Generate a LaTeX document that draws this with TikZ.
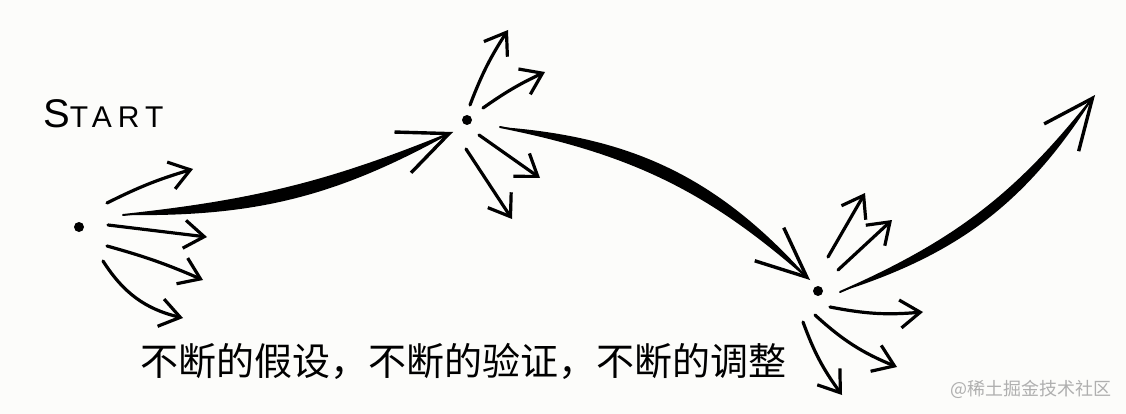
\documentclass[tikz,border=0pt]{standalone}
\usepackage{fontspec}
\setsansfont{Liberation Sans}
\newfontfamily\cjk{Noto Sans CJK SC}
\usetikzlibrary{arrows.meta}
\definecolor{paper}{HTML}{FCFCFA}
\definecolor{mark}{HTML}{AFAFAF}
\tikzset{
  dot/.style={fill=black,circle,minimum size=10pt,inner sep=0pt},
  probe/.style={line width=3.2pt,line cap=round,-{Straight Barb[length=20pt,width=28pt]}},
  leap/.style={line width=2pt,line cap=round,-{Straight Barb[length=50pt,width=44pt,line width=3.4pt]}}
}
\begin{document}
\begin{tikzpicture}[x=1pt,y=-1pt]
  \useasboundingbox[fill=paper] (0,0) rectangle (1126,414);
  % \draw[help lines,step=50] (0,0) grid (1126,414);
  \node[dot] (s) at (79,227) {};
  \node[dot] (a) at (467,120) {};
  \node[dot] (b) at (818,291) {};
  \coordinate (goal) at (1095,95);
  \node[font=\sffamily\addfontfeature{LetterSpace=20}\fontsize{30}{30}\selectfont,anchor=base west,inner sep=0pt]
    (start) at (43,128) {{\fontsize{40}{40}\selectfont S}TART};
  % the small tries around each dot
  \foreach \ax/\ay/\bx/\by/\bend in {28/-24/114/-58/5, 29/-2/128/10/0, 28/19/124/53/4, 24/34/104/91/-22}
    \draw[probe] ([shift={(\ax,\ay)}]s.center) to[bend left=\bend] ([shift={(\bx,\by)}]s.center);
  \foreach \ax/\ay/\bx/\by/\bend in {3/-15/41/-90/6, 16/-12/78/-48/5, 12/15/73/58/0, -1/29/45/99/0}
    \draw[probe] ([shift={(\ax,\ay)}]a.center) to[bend left=\bend] ([shift={(\bx,\by)}]a.center);
  \foreach \ax/\ay/\bx/\by/\bend in {10/-34/47/-98/0, 20/-21/74/-71/0, 12/16/105/21/-8, -3/24/79/76/-10, -15/31/24/104/-8}
    \draw[probe] ([shift={(\ax,\ay)}]b.center) to[bend left=\bend] ([shift={(\bx,\by)}]b.center);
  % the big steps
  \foreach \src/\px/\py/\dst/\qx/\qy/\bend/\bulge in {s/44/-12/a/-14/12/-8/-15, a/33/7/b/-8/-11/15/22, b/22/1/goal/0/0/-14/-20} {
    \fill ([shift={(\px,\py)}]\src.center) to[bend left=\bend] ([shift={(\qx,\qy)}]\dst.center)
      to[bend right=\bulge] ([shift={(\px,\py)}]\src.center);
    \draw[leap] ([shift={(\px,\py)}]\src.center) to[bend left=\bend] ([shift={(\qx,\qy)}]\dst.center);
  }
  \node[font=\cjk\fontsize{38}{38}\selectfont] (motto) at (463,361) {不断的假设，不断的验证，不断的调整};
  \node[font=\cjk\fontsize{18}{18}\selectfont,text=mark] (credit) at (1031,389) {@稀土掘金技术社区};
\end{tikzpicture}
\end{document}
